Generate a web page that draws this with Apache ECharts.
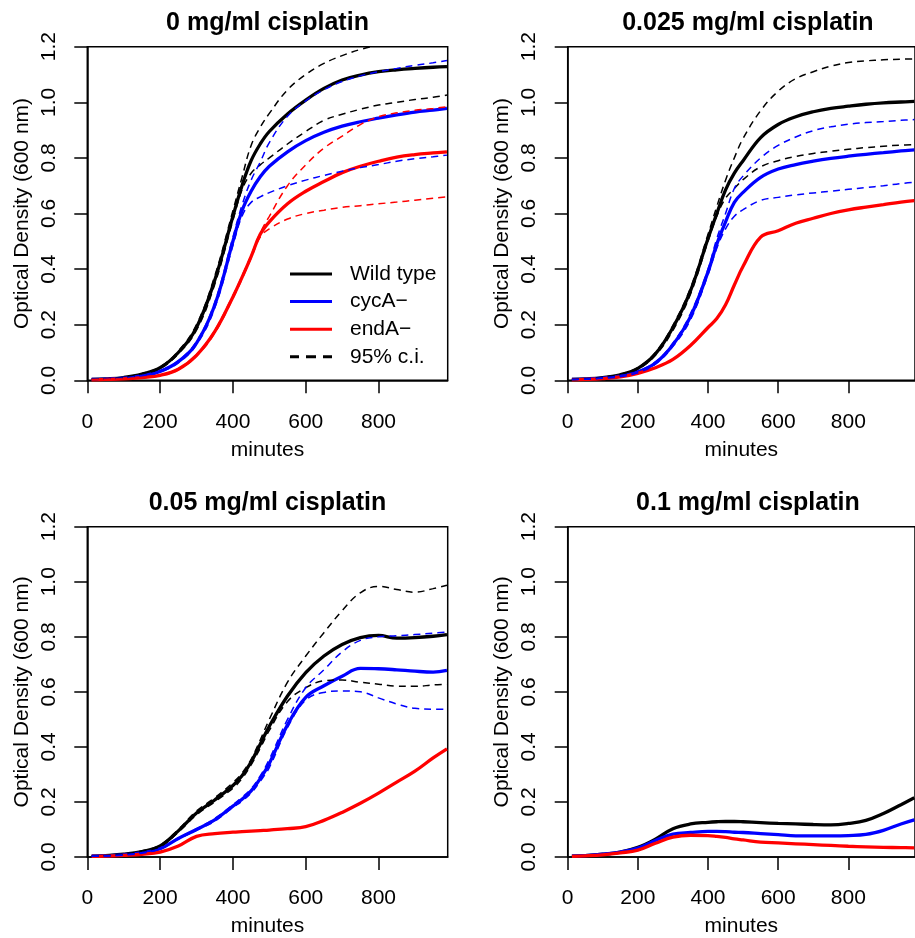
<!DOCTYPE html>
<html>
<head>
<meta charset="utf-8">
<script src="https://cdn.jsdelivr.net/npm/echarts@6/dist/echarts.min.js"></script>
<style>
  html, body { margin: 0; padding: 0; background: #fff; overflow: hidden; }
  #growth { width: 915px; height: 938px; }
</style>
</head>
<body>
<div id="growth"></div>
<script>
  // time points (minutes)
  var mins = [12, 50, 100, 150, 200, 250, 300, 350, 400, 425, 450, 475, 500, 550, 600, 650, 700, 750, 800, 850, 900, 950, 988];
  var xTicks = [0, 200, 400, 600, 800];
  var panelTitles = ['0 mg/ml cisplatin', '0.025 mg/ml cisplatin', '0.05 mg/ml cisplatin', '0.1 mg/ml cisplatin'];

  // 0 mg/ml
  var wt0    = [0.003,0.005,0.010,0.022,0.045,0.100,0.190,0.360,0.590,0.700,0.790,0.850,0.895,0.958,1.008,1.050,1.080,1.098,1.110,1.117,1.122,1.126,1.128];
  var wtHi0  = [0.003,0.005,0.011,0.024,0.048,0.105,0.200,0.375,0.610,0.730,0.845,0.910,0.960,1.045,1.100,1.140,1.168,1.190,1.205,1.215,1.222,1.228,1.232];
  var wtLo0  = [0.003,0.005,0.009,0.020,0.042,0.095,0.180,0.345,0.575,0.685,0.745,0.775,0.800,0.850,0.895,0.935,0.957,0.975,0.990,1.000,1.010,1.018,1.026];
  var cyc0   = [0.003,0.004,0.008,0.016,0.032,0.067,0.134,0.270,0.500,0.610,0.680,0.732,0.770,0.822,0.862,0.892,0.914,0.930,0.943,0.955,0.965,0.972,0.978];
  var cycHi0 = [0.003,0.004,0.009,0.018,0.034,0.070,0.140,0.280,0.515,0.630,0.720,0.785,0.855,0.950,1.005,1.045,1.075,1.095,1.110,1.122,1.133,1.142,1.150];
  var cycLo0 = [0.003,0.004,0.007,0.014,0.030,0.063,0.128,0.260,0.485,0.590,0.640,0.660,0.675,0.700,0.720,0.737,0.752,0.765,0.776,0.788,0.797,0.804,0.810];
  var end0   = [0.002,0.003,0.005,0.010,0.018,0.040,0.090,0.175,0.300,0.370,0.445,0.525,0.570,0.635,0.680,0.715,0.747,0.770,0.788,0.803,0.812,0.818,0.822];
  var endHi0 = [0.002,0.003,0.005,0.011,0.019,0.042,0.093,0.180,0.305,0.375,0.450,0.530,0.590,0.700,0.775,0.835,0.878,0.920,0.948,0.962,0.971,0.978,0.984];
  var endLo0 = [0.002,0.003,0.005,0.009,0.017,0.038,0.087,0.170,0.295,0.365,0.440,0.515,0.545,0.580,0.600,0.612,0.622,0.628,0.635,0.641,0.648,0.655,0.660];

  // 0.025 mg/ml
  var wt1    = [0.003,0.005,0.010,0.020,0.043,0.095,0.190,0.322,0.510,0.600,0.685,0.745,0.790,0.873,0.920,0.948,0.966,0.978,0.986,0.993,0.998,1.001,1.003];
  var wtHi1  = [0.003,0.005,0.011,0.022,0.046,0.100,0.198,0.332,0.525,0.625,0.720,0.800,0.870,0.970,1.040,1.085,1.110,1.130,1.143,1.149,1.153,1.155,1.156];
  var wtLo1  = [0.003,0.005,0.009,0.018,0.040,0.090,0.180,0.310,0.500,0.590,0.655,0.690,0.722,0.768,0.790,0.805,0.816,0.824,0.831,0.837,0.842,0.846,0.848];
  var cyc1   = [0.003,0.004,0.008,0.015,0.030,0.062,0.128,0.229,0.390,0.490,0.570,0.640,0.676,0.730,0.760,0.776,0.788,0.798,0.806,0.813,0.819,0.825,0.829];
  var cycHi1 = [0.003,0.004,0.009,0.017,0.033,0.066,0.134,0.240,0.400,0.510,0.600,0.690,0.735,0.800,0.845,0.875,0.898,0.912,0.921,0.927,0.931,0.935,0.938];
  var cycLo1 = [0.003,0.004,0.007,0.013,0.027,0.058,0.122,0.218,0.380,0.475,0.545,0.590,0.614,0.647,0.658,0.667,0.674,0.680,0.687,0.693,0.700,0.708,0.712];
  var end1   = [0.002,0.003,0.006,0.012,0.025,0.045,0.075,0.125,0.190,0.222,0.272,0.343,0.410,0.515,0.538,0.565,0.583,0.600,0.613,0.623,0.632,0.641,0.646];

  // 0.05 mg/ml
  var wt2    = [0.003,0.005,0.010,0.020,0.040,0.095,0.160,0.207,0.260,0.295,0.345,0.410,0.475,0.585,0.670,0.730,0.772,0.797,0.805,0.795,0.797,0.802,0.808];
  var wtHi2  = [0.003,0.005,0.011,0.022,0.043,0.100,0.167,0.215,0.270,0.305,0.355,0.425,0.500,0.635,0.730,0.815,0.895,0.960,0.983,0.972,0.962,0.975,0.987];
  var wtLo2  = [0.003,0.005,0.009,0.018,0.037,0.090,0.153,0.200,0.250,0.285,0.335,0.395,0.460,0.565,0.615,0.640,0.643,0.635,0.628,0.621,0.620,0.625,0.628];
  var cyc2   = [0.003,0.004,0.008,0.015,0.030,0.067,0.100,0.135,0.185,0.210,0.240,0.285,0.340,0.480,0.580,0.622,0.657,0.685,0.684,0.680,0.675,0.672,0.678];
  var cycHi2 = [0.003,0.004,0.008,0.016,0.031,0.069,0.103,0.140,0.190,0.217,0.248,0.295,0.355,0.500,0.615,0.680,0.745,0.787,0.800,0.804,0.808,0.813,0.817];
  var cycLo2 = [0.003,0.004,0.007,0.014,0.029,0.065,0.097,0.130,0.180,0.203,0.232,0.275,0.325,0.470,0.570,0.598,0.603,0.600,0.578,0.556,0.540,0.537,0.537];
  var end2   = [0.002,0.003,0.006,0.010,0.018,0.040,0.075,0.085,0.090,0.092,0.094,0.096,0.098,0.103,0.110,0.133,0.162,0.195,0.232,0.272,0.312,0.360,0.393];

  // 0.1 mg/ml
  var wt3    = [0.003,0.005,0.010,0.018,0.035,0.065,0.103,0.120,0.126,0.128,0.129,0.129,0.128,0.125,0.122,0.120,0.118,0.117,0.122,0.133,0.158,0.190,0.215];
  var cyc3   = [0.003,0.005,0.010,0.018,0.032,0.060,0.083,0.089,0.093,0.093,0.092,0.090,0.089,0.085,0.081,0.077,0.077,0.077,0.078,0.082,0.097,0.120,0.135];
  var end3   = [0.002,0.004,0.008,0.015,0.025,0.050,0.072,0.079,0.078,0.075,0.071,0.066,0.062,0.054,0.051,0.048,0.045,0.042,0.039,0.037,0.035,0.034,0.033];

  var font = 'Liberation Sans, Arial, Helvetica, sans-serif';
  var gridPos = [[87.3, 46.7], [567.7, 46.7], [87.3, 526.7], [567.7, 526.7]];

  function pts(vals) {
    return mins.map(function (m, i) { return [m, vals[i]]; });
  }
  function solid(name, g, vals, color) {
    return {
      name: name, type: 'line', xAxisIndex: g, yAxisIndex: g,
      data: pts(vals), symbol: 'none', smooth: 0.4,
      lineStyle: { color: color, width: 3.3 }, itemStyle: { color: color },
      silent: true, animation: false
    };
  }
  function dashed(name, g, vals, color) {
    return {
      name: name, type: 'line', xAxisIndex: g, yAxisIndex: g,
      data: pts(vals), symbol: 'none', smooth: 0.4,
      lineStyle: { color: color, width: 1.5, type: [7, 5] }, itemStyle: { color: color },
      silent: true, animation: false, z: 3
    };
  }

  var grids = [], xAxes = [], yAxes = [], titles = [];
  gridPos.forEach(function (p, i) {
    grids.push({ left: p[0], top: p[1], width: 360.4, height: 333.6, show: true,
      borderColor: '#000', borderWidth: 1.5, backgroundColor: 'transparent' });
    xAxes.push({
      type: 'value', gridIndex: i, min: 0, max: 990,
      name: 'minutes', nameLocation: 'middle', nameGap: 59,
      nameTextStyle: { fontFamily: font, fontSize: 21, color: '#000' },
      axisLine: { show: true, lineStyle: { color: '#000', width: 1.5 } },
      axisTick: { show: true, inside: false, length: 13, customValues: xTicks, lineStyle: { color: '#000', width: 1.5 } },
      axisLabel: { customValues: xTicks, margin: 31, fontFamily: font, fontSize: 21, color: '#000' },
      splitLine: { show: false }
    });
    yAxes.push({
      type: 'value', gridIndex: i, min: 0, max: 1.2, interval: 0.2,
      name: 'Optical Density (600 nm)', nameLocation: 'middle', nameGap: 55,
      nameTextStyle: { fontFamily: font, fontSize: 21, color: '#000' },
      axisLine: { show: true, lineStyle: { color: '#000', width: 1.5 } },
      axisTick: { show: true, inside: false, length: 13, lineStyle: { color: '#000', width: 1.5 } },
      axisLabel: { rotate: 90, margin: 28, fontFamily: font, fontSize: 21, color: '#000',
        formatter: function (v) { return v.toFixed(1); } },
      splitLine: { show: false }
    });
    titles.push({
      text: panelTitles[i], left: p[0] + 180.2, top: p[1] - 36, textAlign: 'center', padding: 0,
      textStyle: { fontFamily: font, fontSize: 25, fontWeight: 'bold', color: '#000' }
    });
  });

  var series = [
    solid('Wild type', 0, wt0, '#000000'),
    solid('cycA\u2212', 0, cyc0, '#0000ff'),
    solid('endA\u2212', 0, end0, '#ff0000'),
    dashed('95% c.i.', 0, wtHi0, '#000000'),
    dashed('95% c.i.', 0, wtLo0, '#000000'),
    dashed('cycA ci', 0, cycHi0, '#0000ff'),
    dashed('cycA ci', 0, cycLo0, '#0000ff'),
    dashed('endA ci', 0, endHi0, '#ff0000'),
    dashed('endA ci', 0, endLo0, '#ff0000'),

    solid('Wild type', 1, wt1, '#000000'),
    solid('cycA\u2212', 1, cyc1, '#0000ff'),
    solid('endA\u2212', 1, end1, '#ff0000'),
    dashed('95% c.i.', 1, wtHi1, '#000000'),
    dashed('95% c.i.', 1, wtLo1, '#000000'),
    dashed('cycA ci', 1, cycHi1, '#0000ff'),
    dashed('cycA ci', 1, cycLo1, '#0000ff'),

    solid('Wild type', 2, wt2, '#000000'),
    solid('cycA\u2212', 2, cyc2, '#0000ff'),
    solid('endA\u2212', 2, end2, '#ff0000'),
    dashed('95% c.i.', 2, wtHi2, '#000000'),
    dashed('95% c.i.', 2, wtLo2, '#000000'),
    dashed('cycA ci', 2, cycHi2, '#0000ff'),
    dashed('cycA ci', 2, cycLo2, '#0000ff'),

    solid('Wild type', 3, wt3, '#000000'),
    solid('cycA\u2212', 3, cyc3, '#0000ff'),
    solid('endA\u2212', 3, end3, '#ff0000')
  ];

  var solidIcon = 'path://M0,0h42v3h-42z';
  var dashIcon = 'path://M0,0h9v3h-9z M16,0h10v3h-10z M33,0h9v3h-9z';

  var chart = echarts.init(document.getElementById('growth'), null, { renderer: 'canvas' });
  chart.setOption({
    backgroundColor: '#fff',
    animation: false,
    title: titles,
    legend: {
      data: [
        { name: 'Wild type', icon: solidIcon },
        { name: 'cycA\u2212', icon: solidIcon },
        { name: 'endA\u2212', icon: solidIcon },
        { name: '95% c.i.', icon: dashIcon }
      ],
      orient: 'vertical', left: 290, top: 263, padding: 0,
      itemWidth: 42, itemHeight: 3, itemGap: 5.6, selectedMode: false,
      textStyle: { fontFamily: font, fontSize: 21, color: '#000', lineHeight: 22, padding: [0, 0, 0, 13] }
    },
    grid: grids,
    xAxis: xAxes,
    yAxis: yAxes,
    series: series
  });
</script>
</body>
</html>
